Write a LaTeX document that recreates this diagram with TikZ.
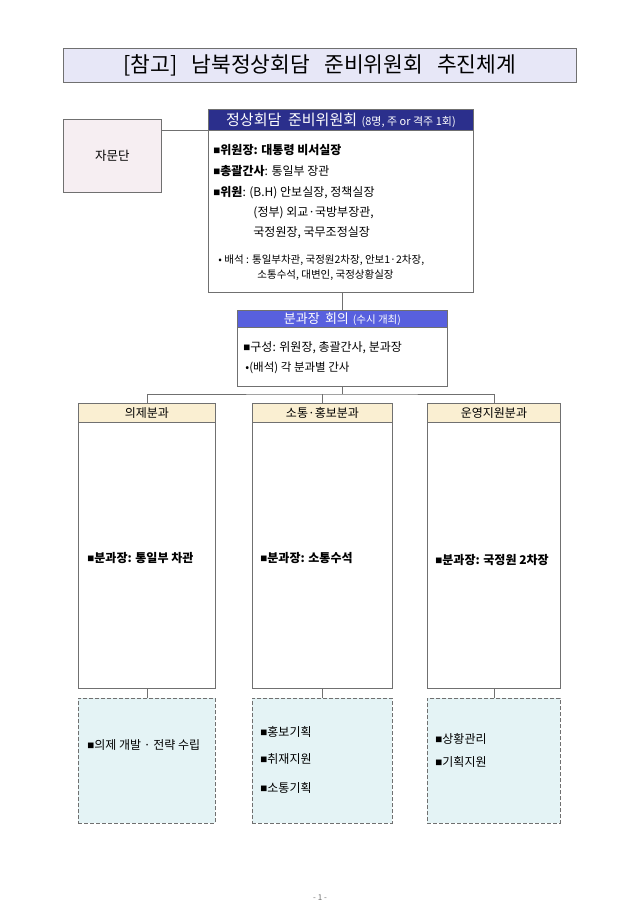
\documentclass[tikz,border=0pt]{standalone}
\usepackage{xcolor}
\usepackage{fontspec}
\setmainfont{Noto Sans CJK KR}
\usepackage{tikz}
\usetikzlibrary{shapes}
\usetikzlibrary{arrows}
\definecolor{titlefill}{HTML}{E7E7F7}
\definecolor{advfill}{HTML}{F6EEF2}
\definecolor{navyhead}{HTML}{2B2F8C}
\definecolor{bluehead}{HTML}{5860DE}
\definecolor{beigehead}{HTML}{FAEFD2}
\definecolor{taskfill}{HTML}{E4F3F5}
\definecolor{linegray}{HTML}{707070}
\newcommand{\bul}{{\raisebox{0.15ex}{\fontsize{7}{8}\selectfont■}}}
\tikzset{
  box/.style={rectangle,draw=linegray,line width=0.9pt,anchor=north west,inner sep=0pt},
  head/.style={box,text=white,font=\fontsize{12}{14}\selectfont},
  part head/.style={box,fill=beigehead,font=\fontsize{12}{14}\selectfont},
  task/.style={box,fill=taskfill,dashed,dash pattern=on 4pt off 2pt},
  item/.style={anchor=west,inner sep=0pt,font=\fontsize{12}{14}\selectfont},
  small item/.style={anchor=west,inner sep=0pt,font=\fontsize{10.5}{12}\selectfont}
}

\begin{document}
\begin{tikzpicture}[x=1pt,y=-1pt,line width=0.9pt,draw=linegray]
        \useasboundingbox (0,0) rectangle (640,905);

        \node[box,fill=titlefill,minimum width=513pt,minimum height=34pt,font=\fontsize{21.5}{24}\selectfont] (0) at (63,48)
            {[참고]\hspace{0.65em}남북정상회담\hspace{0.65em}준비위원회\hspace{0.65em}추진체계};

        \node[box,fill=advfill,minimum width=98pt,minimum height=73pt,font=\fontsize{12.5}{14}\selectfont] (1) at (63,119) {자문단};

        \node[head,fill=navyhead,minimum width=265pt,minimum height=21pt] (2) at (208,109)
            {\fontsize{15}{17}\selectfont 정상회담\hspace{0.45em}준비위원회\hspace{0.3em}{\fontsize{11}{12}\selectfont(8명, 주 or 격주 1회)}};
        \node[box,fill=white,minimum width=265pt,minimum height=162pt] (2b) at (208,130) {};
        \node[item] at (213,150) {\bul\textbf{위원장: 대통령 비서실장}};
        \node[item] at (213,171) {\bul\textbf{총괄간사}: 통일부 장관};
        \node[item] at (213,193) {\bul\textbf{위원}: (B.H) 안보실장, 정책실장};
        \node[item] at (253,213) {(정부) 외교·국방부장관,};
        \node[item] at (253,233) {국정원장, 국무조정실장};
        \node[small item] at (218,260) {• 배석 : 통일부차관, 국정원2차장, 안보1·2차장,};
        \node[small item] at (257,275) {소통수석, 대변인, 국정상황실장};

        \node[head,fill=bluehead,minimum width=210pt,minimum height=17pt] (3) at (237,310)
            {\fontsize{13}{15}\selectfont 분과장\hspace{0.4em}회의\hspace{0.3em}{\fontsize{10.5}{12}\selectfont(수시 개최)}};
        \node[box,fill=white,minimum width=210pt,minimum height=59pt] (3b) at (237,327) {};
        \node[item] at (243,348) {\bul 구성: 위원장, 총괄간사, 분과장};
        \node[small item,font=\fontsize{11.5}{13}\selectfont] at (245,368) {•(배석) 각 분과별 간사};

        % 분과
        \node[part head,minimum width=137pt,minimum height=19pt] (4) at (78,403) {의제분과};
        \node[part head,minimum width=140pt,minimum height=19pt] (5) at (252,403) {소통·홍보분과};
        \node[part head,minimum width=133pt,minimum height=19pt] (6) at (427,403) {운영지원분과};
        \node[box,fill=white,minimum width=137pt,minimum height=266pt] (4b) at (78,422) {};
        \node[box,fill=white,minimum width=140pt,minimum height=266pt] (5b) at (252,422) {};
        \node[box,fill=white,minimum width=133pt,minimum height=266pt] (6b) at (427,422) {};
        \node[item] at (87,558) {\bul\textbf{분과장: 통일부 차관}};
        \node[item] at (260,558) {\bul\textbf{분과장: 소통수석}};
        \node[item] at (435,560) {\bul\textbf{분과장: 국정원 2차장}};

        \node[task,minimum width=137pt,minimum height=125pt] (4c) at (78,698) {};
        \node[task,minimum width=140pt,minimum height=125pt] (5c) at (252,698) {};
        \node[task,minimum width=133pt,minimum height=125pt] (6c) at (427,698) {};
        \node[item] at (87,745) {\bul 의제 개발 · 전략 수립};
        \node[item] at (260,732) {\bul 홍보기획};
        \node[item] at (260,759) {\bul 취재지원};
        \node[item] at (260,788) {\bul 소통기획};
        \node[item] at (435,739) {\bul 상황관리};
        \node[item] at (435,762) {\bul 기획지원};

        \node[font=\fontsize{8}{10}\selectfont,text=linegray] (7) at (320,898) {- 1 -};

        \coordinate (bus) at (343,394);
        \draw (2.south west) -- (2.south west -| 1.east);
        \draw (3.north) -- (3.north |- 2b.south);
        \draw (3b.south) -- (3b.south |- bus);
        \draw (4.north) |- (bus) -| (6.north);
        \draw (5.north) -- (5.north |- bus);
        \path (4b.south) edge (4c.north)
              (5b.south) edge (5c.north)
              (6b.south) edge (6c.north);
      \end{tikzpicture}
\end{document}
